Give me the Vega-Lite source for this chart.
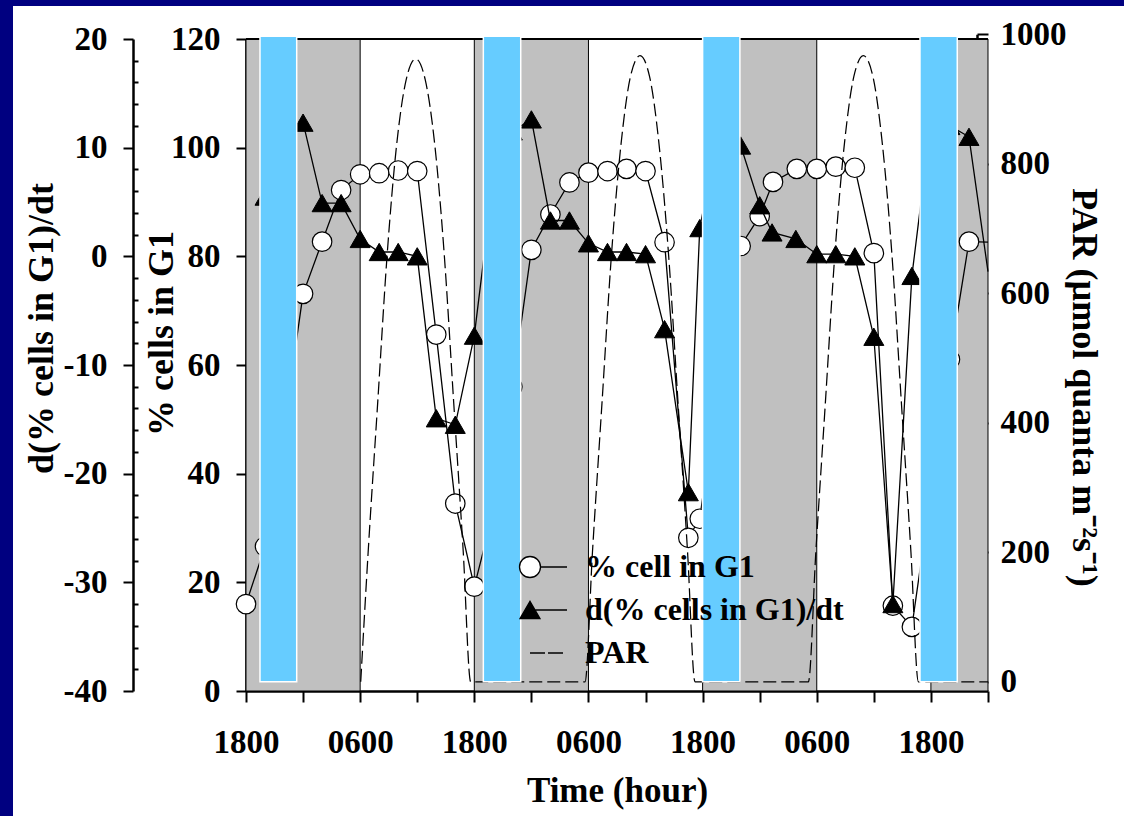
{
  "$schema": "https://vega.github.io/schema/vega-lite/v6.json",
  "width": 1111,
  "height": 810,
  "autosize": {"type": "none"},
  "padding": {"left": 13, "top": 6, "right": 0, "bottom": 0},
  "background": "#000080",
  "view": {"fill": "white", "stroke": null},
  "config": {
    "view": {"fill": "white", "stroke": null},
    "font": "Liberation Serif",
    "axis": {
      "labelFont": "Liberation Serif",
      "labelFontWeight": "bold",
      "labelFontSize": 33,
      "labelColor": "black",
      "labelExpr": "'' + datum.value",
      "titleFont": "Liberation Serif",
      "titleFontWeight": "bold",
      "titleFontSize": 36,
      "titleColor": "black",
      "domainColor": "black",
      "domainWidth": 2.5,
      "domainCap": "butt",
      "tickColor": "black",
      "tickWidth": 2,
      "grid": false,
      "labelFlush": false,
      "labelOverlap": false,
      "zindex": 1
    }
  },
  "datasets": {
    "g1": [
      {"t": 0, "g1": 16.0}, {"t": 2, "g1": 26.6}, {"t": 4, "g1": 48.5}, {"t": 6, "g1": 73.1},
      {"t": 8, "g1": 82.7}, {"t": 10, "g1": 92.2}, {"t": 12, "g1": 95.1}, {"t": 14, "g1": 95.3},
      {"t": 16, "g1": 95.8}, {"t": 18, "g1": 95.7}, {"t": 20, "g1": 65.6}, {"t": 22, "g1": 34.5},
      {"t": 24, "g1": 19.2}, {"t": 26, "g1": 33.0}, {"t": 28, "g1": 56.0}, {"t": 30, "g1": 81.2},
      {"t": 32, "g1": 87.7}, {"t": 34, "g1": 93.6}, {"t": 36, "g1": 95.4}, {"t": 38, "g1": 95.7},
      {"t": 40, "g1": 96.1}, {"t": 42, "g1": 95.7}, {"t": 44, "g1": 82.6}, {"t": 46.5, "g1": 28.2},
      {"t": 47.7, "g1": 31.7}, {"t": 50, "g1": 61.0}, {"t": 52, "g1": 81.9}, {"t": 54, "g1": 87.4},
      {"t": 55.4, "g1": 93.7}, {"t": 57.9, "g1": 96.1}, {"t": 60, "g1": 96.1}, {"t": 62, "g1": 96.5},
      {"t": 64, "g1": 96.3}, {"t": 66, "g1": 80.6}, {"t": 68, "g1": 15.7}, {"t": 70, "g1": 11.8},
      {"t": 72, "g1": 36.5}, {"t": 74, "g1": 61.0}, {"t": 76, "g1": 82.7}, {"t": 78, "g1": 82.6}
    ],
    "rate": [
      {"t": 2, "d": 5.5}, {"t": 4, "d": 11.0}, {"t": 6, "d": 12.3}, {"t": 8, "d": 4.9},
      {"t": 10, "d": 4.9}, {"t": 12, "d": 1.6}, {"t": 14, "d": 0.4}, {"t": 16, "d": 0.4},
      {"t": 18, "d": 0.0}, {"t": 20, "d": -14.9}, {"t": 22, "d": -15.5}, {"t": 24, "d": -7.3},
      {"t": 26, "d": 7.0}, {"t": 28, "d": 11.5}, {"t": 30, "d": 12.6}, {"t": 32, "d": 3.3},
      {"t": 34, "d": 3.3}, {"t": 36, "d": 1.2}, {"t": 38, "d": 0.4}, {"t": 40, "d": 0.4},
      {"t": 42, "d": 0.2}, {"t": 44, "d": -6.7}, {"t": 46.5, "d": -21.7}, {"t": 47.7, "d": 2.6},
      {"t": 50, "d": 13.0}, {"t": 52, "d": 10.2}, {"t": 54, "d": 4.7}, {"t": 55.3, "d": 2.2},
      {"t": 57.8, "d": 1.6}, {"t": 60, "d": 0.2}, {"t": 62, "d": 0.2}, {"t": 64, "d": 0.0},
      {"t": 66, "d": -7.4}, {"t": 68, "d": -32.0}, {"t": 70, "d": -1.8}, {"t": 72, "d": 12.4},
      {"t": 74, "d": 12.0}, {"t": 76, "d": 11.0}, {"t": 78, "d": -1.4}
    ],
    "par": [
      {"t": 12.06, "par": 0}, {"t": 12.84, "par": 200}, {"t": 13.84, "par": 430}, {"t": 14.84, "par": 660},
      {"t": 15.84, "par": 830}, {"t": 16.84, "par": 930}, {"t": 17.84, "par": 962}, {"t": 18.84, "par": 930},
      {"t": 19.84, "par": 830}, {"t": 20.84, "par": 660}, {"t": 21.84, "par": 430}, {"t": 22.84, "par": 200},
      {"t": 23.62, "par": 0},
      {"t": 35.64, "par": 0}, {"t": 36.42, "par": 200}, {"t": 37.42, "par": 430}, {"t": 38.42, "par": 660},
      {"t": 39.42, "par": 830}, {"t": 40.42, "par": 935}, {"t": 41.42, "par": 967}, {"t": 42.42, "par": 935},
      {"t": 43.42, "par": 830}, {"t": 44.42, "par": 660}, {"t": 45.42, "par": 430}, {"t": 46.42, "par": 200},
      {"t": 47.2, "par": 0},
      {"t": 59.12, "par": 0}, {"t": 59.9, "par": 200}, {"t": 60.9, "par": 430}, {"t": 61.9, "par": 660},
      {"t": 62.9, "par": 830}, {"t": 63.9, "par": 935}, {"t": 64.9, "par": 967}, {"t": 65.9, "par": 935},
      {"t": 66.9, "par": 830}, {"t": 67.9, "par": 660}, {"t": 68.9, "par": 430}, {"t": 69.9, "par": 200},
      {"t": 70.68, "par": 0}, {"t": 78, "par": 0}
    ],
    "night": [
      {"start": 0, "end": 12}, {"start": 24, "end": 36}, {"start": 48, "end": 60}, {"start": 72, "end": 78}
    ],
    "blueBars": [
      {"start": 1.47, "end": 5.33}, {"start": 24.95, "end": 28.88},
      {"start": 48.0, "end": 51.92}, {"start": 70.85, "end": 74.77}
    ],
    "series": [
      {"series": "% cell in G1"}, {"series": "d(% cells in G1)/dt"}, {"series": "PAR"}
    ]
  },
  "layer": [
    {
      "layer": [
        {
          "data": {"name": "night"},
          "mark": {"type": "rect", "fill": "#C0C0C0", "stroke": "black", "strokeWidth": 1},
          "encoding": {
            "x": {
              "field": "start", "type": "quantitative",
              "scale": {"domain": [-24.493, 92.297], "nice": false, "zero": false},
              "axis": {
                "orient": "bottom", "offset": -125,
                "values": [0, 6, 12, 18, 24, 30, 36, 42, 48, 54, 60, 66, 72, 78],
                "labelExpr": "datum.value % 24 === 0 ? '1800' : (datum.value % 12 === 0 ? '0600' : '')",
                "tickSize": 11, "labelPadding": 24,
                "domainDash": [742, 369], "domainDashOffset": 878,
                "title": "Time (hour)", "titleFontSize": 35, "titleX": 604, "titleY": 110, "titleBaseline": "alphabetic"
              }
            },
            "x2": {"field": "end"},
            "y": {"datum": 0, "type": "quantitative", "scale": {"domain": [-23.006, 126.074], "nice": false, "zero": false}},
            "y2": {"datum": 120}
          }
        },
        {
          "data": {"values": [{}]},
          "mark": {"type": "rule", "stroke": "black", "strokeWidth": 2},
          "encoding": {
            "x": {"datum": 0, "type": "quantitative", "scale": {"domain": [-24.493, 92.297], "nice": false, "zero": false}},
            "x2": {"datum": 78},
            "y": {"datum": 120, "type": "quantitative", "scale": {"domain": [-23.006, 126.074], "nice": false, "zero": false}}
          }
        },
        {
          "data": {"name": "g1"},
          "mark": {"type": "line", "stroke": "black", "strokeWidth": 1.3},
          "encoding": {
            "x": {"field": "t", "type": "quantitative", "scale": {"domain": [-24.493, 92.297], "nice": false, "zero": false}},
            "y": {
              "field": "g1", "type": "quantitative",
              "scale": {"domain": [-23.006, 126.074], "nice": false, "zero": false},
              "axis": {
                "orient": "left", "offset": -233,
                "values": [0, 20, 40, 60, 80, 100, 120],
                "tickSize": 10, "labelPadding": 16,
                "domainDash": [652, 158], "domainDashOffset": 685,
                "title": "% cells in G1", "titleX": -73.5, "titleY": 327, "titleBaseline": "alphabetic"
              }
            }
          }
        },
        {
          "data": {"name": "g1"},
          "transform": [{"filter": "datum.t < 78"}],
          "mark": {"type": "point", "shape": "circle", "filled": true, "fill": "white", "stroke": "black", "strokeWidth": 1.2, "size": 380, "opacity": 1},
          "encoding": {
            "x": {"field": "t", "type": "quantitative", "scale": {"domain": [-24.493, 92.297], "nice": false, "zero": false}},
            "y": {"field": "g1", "type": "quantitative", "scale": {"domain": [-23.006, 126.074], "nice": false, "zero": false}}
          }
        }
      ]
    },
    {
      "data": {"name": "rate"},
      "mark": {"type": "line", "stroke": "black", "strokeWidth": 1.3},
      "encoding": {
        "x": {"field": "t", "type": "quantitative", "scale": {"domain": [-24.493, 92.297], "nice": false, "zero": false}},
        "y": {
          "field": "d", "type": "quantitative",
          "scale": {"domain": [-51.503, 23.037], "nice": false, "zero": false},
          "axis": {
            "orient": "left", "offset": -120,
            "values": [-40, -30, -20, -10, 0, 10, 20],
            "tickSize": 10, "labelPadding": 16,
            "domainDash": [652, 158], "domainDashOffset": 685,
            "title": "d(% cells in G1)/dt", "titleX": -80.5, "titleY": 322, "titleBaseline": "alphabetic"
          }
        }
      }
    },
    {
      "data": {"name": "rate"},
      "transform": [{"filter": "datum.t < 78"}],
      "mark": {"type": "point", "shape": "triangle-up", "filled": true, "fill": "black", "stroke": "black", "strokeWidth": 1, "size": 400, "opacity": 1},
      "encoding": {
        "x": {"field": "t", "type": "quantitative", "scale": {"domain": [-24.493, 92.297], "nice": false, "zero": false}},
        "y": {
          "field": "d", "type": "quantitative",
          "scale": {"domain": [-51.503, 23.037], "nice": false, "zero": false},
          "axis": {
            "orient": "left", "offset": -125,
            "values": [-38, -36, -34, -32, -28, -26, -24, -22, -18, -16, -14, -12, -8, -6, -4, -2, 2, 4, 6, 8, 12, 14, 16, 18],
            "tickSize": 5, "labels": false, "domain": false, "title": null
          }
        }
      }
    },
    {
      "layer": [
        {
          "data": {"name": "par"},
          "mark": {"type": "line", "stroke": "black", "strokeWidth": 1.25, "strokeDash": [13, 5], "interpolate": "monotone"},
          "encoding": {
            "x": {"field": "t", "type": "quantitative", "scale": {"domain": [-24.493, 92.297], "nice": false, "zero": false}},
            "y": {
              "field": "par", "type": "quantitative",
              "scale": {"domain": [-207.26, 1043.71], "nice": false, "zero": false},
              "axis": {
                "orient": "right", "offset": -147,
                "values": [0, 200, 400, 600, 800, 1000],
                "tickSize": 11, "labelPadding": 12,
                "domainDash": [647.5, 162.5], "domainDashOffset": 675.8,
                "title": "PAR (µmol quanta m⁻²s⁻¹)",
                "titleX": 95, "titleY": 381, "titleAngle": 90, "titleBaseline": "alphabetic"
              }
            }
          }
        },
        {
          "data": {"name": "blueBars"},
          "mark": {"type": "rect", "fill": "#66CCFF", "stroke": "white", "strokeWidth": 1.5},
          "encoding": {
            "x": {"field": "start", "type": "quantitative", "scale": {"domain": [-24.493, 92.297], "nice": false, "zero": false}},
            "x2": {"field": "end"},
            "y": {"datum": 0, "type": "quantitative", "scale": {"domain": [-207.26, 1043.71], "nice": false, "zero": false}},
            "y2": {"datum": 997}
          }
        }
      ]
    },
    {
      "data": {"name": "series"},
      "mark": {"type": "point", "filled": true, "opacity": 0, "strokeWidth": 1.3},
      "encoding": {
        "shape": {
          "field": "series", "type": "nominal",
          "scale": {
            "domain": ["% cell in G1", "d(% cells in G1)/dt", "PAR"],
            "range": [
              "M1.05,0H3.7M-1.05,0A1.05,1.05,0,1,1,1.05,0A1.05,1.05,0,1,1,-1.05,0Z",
              "M0,0H3.7M0,-0.866L1,0.866L-1,0.866Z",
              "M0,0H1.5M1.8,0H3.3"
            ]
          },
          "legend": {
            "title": null, "orient": "none", "legendX": 501, "legendY": 545, "padding": 0,
            "symbolSize": 400, "symbolStrokeWidth": 1.3, "symbolOpacity": 1,
            "labelFont": "Liberation Serif", "labelFontWeight": "bold", "labelFontSize": 32, "labelColor": "black",
            "labelOffset": 39, "labelLimit": 0, "rowPadding": 11
          }
        },
        "fill": {
          "field": "series", "type": "nominal",
          "scale": {
            "domain": ["% cell in G1", "d(% cells in G1)/dt", "PAR"],
            "range": ["white", "black", "transparent"]
          },
          "legend": {
            "title": null, "orient": "none", "legendX": 501, "legendY": 545, "padding": 0,
            "symbolSize": 400, "symbolStrokeWidth": 1.3, "symbolOpacity": 1,
            "labelFont": "Liberation Serif", "labelFontWeight": "bold", "labelFontSize": 32, "labelColor": "black",
            "labelOffset": 39, "labelLimit": 0, "rowPadding": 11
          }
        },
        "stroke": {
          "field": "series", "type": "nominal",
          "scale": {
            "domain": ["% cell in G1", "d(% cells in G1)/dt", "PAR"],
            "range": ["black", "black", "black"]
          },
          "legend": {
            "title": null, "orient": "none", "legendX": 501, "legendY": 545, "padding": 0,
            "symbolSize": 400, "symbolStrokeWidth": 1.3, "symbolOpacity": 1,
            "labelFont": "Liberation Serif", "labelFontWeight": "bold", "labelFontSize": 32, "labelColor": "black",
            "labelOffset": 39, "labelLimit": 0, "rowPadding": 11
          }
        }
      }
    }
  ],
  "resolve": {"scale": {"y": "independent"}}
}
